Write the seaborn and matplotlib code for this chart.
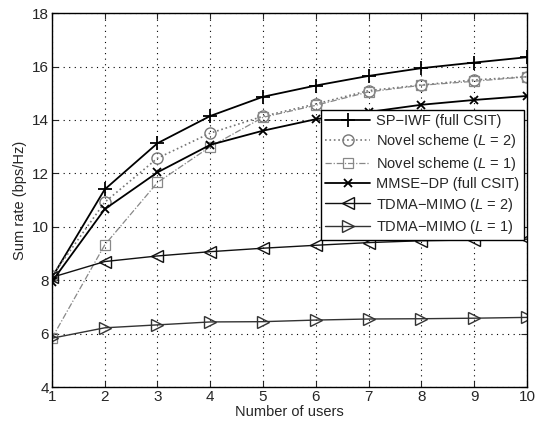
import numpy as np
import pandas as pd
import matplotlib
matplotlib.use('Agg')
import matplotlib.pyplot as plt
import seaborn as sns

sns.set_style('ticks')
plt.rcParams['font.family'] = ['Liberation Sans', 'DejaVu Sans']
plt.rcParams['mathtext.fontset'] = 'custom'
plt.rcParams['mathtext.rm'] = 'Liberation Sans'
plt.rcParams['mathtext.it'] = 'Liberation Sans:italic'

# data
users = [1, 2, 3, 4, 5, 6, 7, 8, 9, 10]
sp_iwf = [8.1, 11.4, 13.13, 14.15, 14.87, 15.29, 15.65, 15.94, 16.15, 16.35]
novel_l2 = [8.15, 10.92, 12.57, 13.51, 14.14, 14.6, 15.1, 15.31, 15.5, 15.62]
novel_l1 = [5.83, 9.32, 11.66, 13.0, 14.1, 14.55, 15.05, 15.3, 15.45, 15.62]
mmse_dp = [7.95, 10.66, 12.04, 13.07, 13.6, 14.03, 14.3, 14.57, 14.75, 14.9]
tdma_l2 = [8.11, 8.7, 8.91, 9.07, 9.2, 9.31, 9.41, 9.48, 9.51, 9.54]
tdma_l1 = [5.83, 6.22, 6.33, 6.44, 6.45, 6.51, 6.55, 6.56, 6.58, 6.61]

names = ['SP\u2212IWF (full CSIT)', 'Novel scheme ($L$ = 2)', 'Novel scheme ($L$ = 1)',
         'MMSE\u2212DP (full CSIT)', 'TDMA\u2212MIMO ($L$ = 2)', 'TDMA\u2212MIMO ($L$ = 1)']
series = [sp_iwf, novel_l2, novel_l1, mmse_dp, tdma_l2, tdma_l1]

df = pd.DataFrame({'users': users * len(names),
                   'rate': np.concatenate(series),
                   'scheme': np.repeat(names, len(users))})

styles = {
    names[0]: dict(color='black', ls='-', lw=1.3, marker='+', ms=10, mew=1.3),
    names[1]: dict(color='#777777', ls=':', lw=1.2, marker='o', ms=8, mfc='none', mew=1.0),
    names[2]: dict(color='#888888', ls=(0, (5, 1.5, 1, 1.5)), lw=0.9, marker='s', ms=6.5, mfc='none', mew=0.9),
    names[3]: dict(color='black', ls='-', lw=1.3, marker='x', ms=6, mew=1.3),
    names[4]: dict(color='#111111', ls='-', lw=1.0, marker='<', ms=9, mfc='none', mew=1.0),
    names[5]: dict(color='#333333', ls='-', lw=1.0, marker='>', ms=9, mfc='none', mew=1.0),
}

fig = plt.figure(figsize=(5.35, 4.24), dpi=100)
ax = fig.add_axes([0.097, 0.087, 0.888, 0.882])

for name in names:
    sub = df[df['scheme'] == name]
    st = styles[name]
    sns.lineplot(data=sub, x='users', y='rate', ax=ax, label=name,
                 color=st['color'], linestyle=st['ls'], linewidth=st['lw'],
                 marker=st['marker'], markersize=st['ms'],
                 markerfacecolor=st.get('mfc', st['color']),
                 markeredgecolor=st['color'], markeredgewidth=st['mew'])

ax.set_xlim(1, 10)
ax.set_ylim(4, 18)
ax.set_xticks(users)
ax.set_yticks(range(4, 19, 2))
ax.grid(True, color='black', linestyle=(0, (1, 4)), linewidth=0.8)
ax.tick_params(direction='in', top=True, right=True, labelsize=11, length=4, pad=2)
for s in ax.spines.values():
    s.set_visible(True)
    s.set_linewidth(1.0)
    s.set_color('black')
ax.set_xlabel('Number of users', fontsize=10.5, labelpad=1)
ax.set_ylabel('Sum rate (bps/Hz)', fontsize=10.5, labelpad=4)

leg = ax.legend(loc='upper right', bbox_to_anchor=(0.993, 0.742), fontsize=10.5,
                frameon=True, fancybox=False, framealpha=1, edgecolor='black',
                handlelength=3.1, borderpad=0.3, labelspacing=0.3, handletextpad=0.4,
                borderaxespad=0)
leg.get_frame().set_linewidth(1.0)

fig.savefig('out.png', dpi=100)
